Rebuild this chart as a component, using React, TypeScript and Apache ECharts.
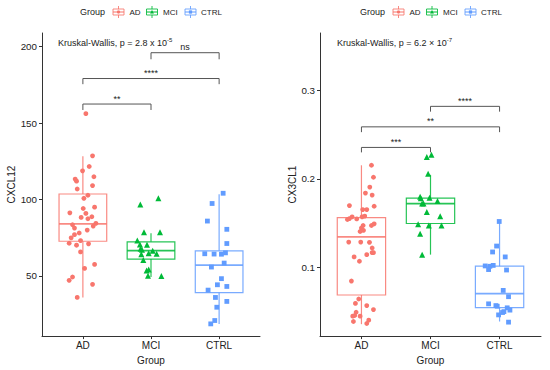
import React, { useEffect, useRef } from 'react';
import * as echarts from 'echarts';

// ---------- data ----------
const groups = ['AD', 'MCI', 'CTRL'];
const groupColors = ['#F8766D', '#00BA38', '#619CFF'];
const groupSymbols = ['circle', 'triangle', 'rect'];

// CXCL12 panel: points (value) and horizontal jitter (in category units)
const cxcl12AD = [156.2, 128.6, 121.6, 118.8, 114.9, 113.4, 112.0, 109.1, 106.9, 102.8, 100.8, 95.0, 94.1, 91.3, 90.9, 88.7, 88.3, 87.4, 84.4, 83.5, 82.6, 81.3, 80.0, 78.1, 77.0, 74.9, 73.1, 71.4, 71.0, 70.1, 65.7, 57.5, 54.9, 49.3, 47.1, 44.5, 35.9];
const cxcl12ADJitter = [0.044, 0.142, 0.093, -0.005, 0.162, -0.113, -0.093, 0.142, -0.083, 0.074, 0.015, 0.172, 0.005, -0.191, 0.044, 0.132, -0.025, 0.074, 0.191, -0.152, 0.152, -0.123, 0.064, -0.054, -0.123, -0.172, -0.034, -0.201, 0.083, -0.093, -0.034, 0.172, 0.025, -0.152, -0.201, 0.142, -0.083];
const cxcl12MCI = [100.8, 96.8, 78.6, 78.6, 73.1, 70.5, 70.4, 67.7, 67.1, 66.4, 64.9, 64.5, 64.2, 60.4, 53.5, 54.2, 50.1, 49.9];
const cxcl12MCIJitter = [0.108, -0.157, 0.132, -0.103, -0.201, -0.162, -0.059, -0.152, -0.132, 0.025, -0.034, 0.083, -0.142, -0.113, -0.064, -0.034, -0.044, 0.152];
const cxcl12CTRL = [104.1, 97.4, 85.9, 80.5, 71.2, 64.5, 64.3, 64.2, 65.1, 58.4, 55.8, 48.2, 44.2, 43.1, 40.7, 35.9, 33.3, 29.5, 20.8, 18.6];
const cxcl12CTRLJitter = [0.059, -0.103, -0.172, 0.113, 0.113, -0.211, -0.074, 0.034, 0.093, 0.074, -0.113, 0.034, -0.025, 0.113, -0.162, -0.054, 0.113, -0.034, -0.064, -0.123];
// box stats: [lower whisker, Q1, median, Q3, upper whisker]
const cxcl12Box = [
  [35.9, 72.7, 84.0, 103.6, 128.3],
  [49.3, 61.0, 66.6, 72.3, 77.9],
  [18.6, 39.0, 57.1, 66.4, 103.4],
];
// brackets: [from group, to group, bar value, tick end value]
const cxcl12Brackets = [
  [2, 3, 196.1, 191.8],
  [1, 3, 179.2, 175.5],
  [1, 2, 162.5, 158.6],
];
const cxcl12BracketLabels = ['ns', '****', '**'];
const cxcl12Ticks = [50, 100, 150, 200];

// CX3CL1 panel
const cx3cl1AD = [0.2153, 0.2018, 0.1906, 0.1838, 0.1816, 0.1697, 0.1689, 0.1652, 0.1652, 0.157, 0.157, 0.1578, 0.155, 0.1546, 0.154, 0.1472, 0.1472, 0.149, 0.1442, 0.1416, 0.1404, 0.1284, 0.1284, 0.1281, 0.1217, 0.1164, 0.1164, 0.1142, 0.1116, 0.1067, 0.0843, 0.064, 0.059, 0.0565, 0.052, 0.049, 0.0453, 0.0446, 0.0446, 0.04, 0.0385, 0.0363];
const cx3cl1ADJitter = [0.145, 0.174, 0.121, 0.058, 0.155, -0.174, 0.184, 0.019, 0.077, -0.135, 0.01, 0.048, -0.174, -0.068, -0.203, 0.024, 0.145, 0.184, 0.0, 0.029, -0.019, -0.184, -0.01, 0.116, 0.155, 0.174, 0.155, 0.077, -0.106, -0.029, -0.145, -0.039, -0.087, 0.077, 0.174, -0.077, -0.097, -0.019, -0.126, 0.106, -0.116, 0.077];
const cx3cl1MCI = [0.2273, 0.2247, 0.2056, 0.1798, 0.178, 0.1787, 0.172, 0.172, 0.1748, 0.1625, 0.1576, 0.1487, 0.1472, 0.1472, 0.1378, 0.1142];
const cx3cl1MCIJitter = [0.014, -0.053, -0.034, -0.15, -0.14, -0.014, -0.101, -0.121, 0.101, -0.053, 0.14, -0.179, -0.024, 0.159, -0.15, -0.121];
const cx3cl1CTRL = [0.1517, 0.1239, 0.1172, 0.1116, 0.1014, 0.101, 0.102, 0.0973, 0.0968, 0.0737, 0.0666, 0.0585, 0.0565, 0.0558, 0.054, 0.0514, 0.0497, 0.0487, 0.046, 0.0378];
const cx3cl1CTRLJitter = [-0.005, -0.043, -0.101, 0.082, -0.208, -0.14, -0.092, -0.159, 0.101, 0.053, 0.13, -0.159, -0.053, -0.034, 0.111, 0.15, 0.063, 0.043, -0.014, 0.13];
const cx3cl1Box = [
  [0.0355, 0.0685, 0.1344, 0.156, 0.2153],
  [0.1142, 0.1494, 0.1719, 0.1782, 0.2045],
  [0.0385, 0.0543, 0.07, 0.1011, 0.1517],
];
const cx3cl1Brackets = [
  [2, 3, 0.282, 0.276],
  [1, 3, 0.2588, 0.2528],
  [1, 2, 0.2355, 0.2299],
];
const cx3cl1BracketLabels = ['****', '**', '***'];
const cx3cl1Ticks = [0.1, 0.2, 0.3];

const FONT = 'Liberation Sans, Arial, Helvetica, sans-serif';
const TEXT = '#222222';
const AXIS = '#333333';

function boxSeries(stats: number[][], idx: number) {
  return {
    type: 'custom',
    xAxisIndex: idx,
    yAxisIndex: idx,
    z: 2,
    silent: true,
    data: stats.map((s, i) => [i + 1, ...s]),
    renderItem: (params: any, api: any) => {
      const x = api.value(0);
      const lo = api.value(1), q1 = api.value(2), med = api.value(3), q3 = api.value(4), hi = api.value(5);
      const color = groupColors[params.dataIndex];
      const hw = 0.35;
      const tl = api.coord([x - hw, q3]);
      const br = api.coord([x + hw, q1]);
      const mL = api.coord([x - hw, med]);
      const mR = api.coord([x + hw, med]);
      const top = api.coord([x, hi]);
      const bot = api.coord([x, lo]);
      const cTop = api.coord([x, q3]);
      const cBot = api.coord([x, q1]);
      const st = { stroke: color, lineWidth: 1.2, opacity: 0.85, fill: 'none' };
      return {
        type: 'group',
        children: [
          { type: 'line', shape: { x1: top[0], y1: top[1], x2: cTop[0], y2: cTop[1] }, style: st },
          { type: 'line', shape: { x1: bot[0], y1: bot[1], x2: cBot[0], y2: cBot[1] }, style: st },
          { type: 'rect', shape: { x: tl[0], y: tl[1], width: br[0] - tl[0], height: br[1] - tl[1] }, style: st },
          { type: 'line', shape: { x1: mL[0], y1: mL[1], x2: mR[0], y2: mR[1] }, style: { ...st, lineWidth: 1.8 } },
        ],
      };
    },
  };
}

function pointSeries(values: number[], jitter: number[], gi: number, idx: number) {
  return {
    type: 'scatter',
    name: groups[gi],
    xAxisIndex: idx,
    yAxisIndex: idx,
    z: 3,
    symbol: groupSymbols[gi],
    symbolSize: gi === 1 ? 6 : 4.8,
    itemStyle: { color: groupColors[gi], opacity: 1 },
    data: values.map((v, i) => [gi + 1 + jitter[i], v]),
  };
}

function bracketSeries(brackets: number[][], labels: string[], idx: number) {
  return {
    type: 'custom',
    xAxisIndex: idx,
    yAxisIndex: idx,
    z: 4,
    silent: true,
    data: brackets,
    renderItem: (params: any, api: any) => {
      const x1 = api.value(0), x2 = api.value(1), y = api.value(2), yt = api.value(3);
      const p1 = api.coord([x1, yt]);
      const p2 = api.coord([x1, y]);
      const p3 = api.coord([x2, y]);
      const p4 = api.coord([x2, yt]);
      return {
        type: 'group',
        children: [
          { type: 'polyline', shape: { points: [p1, p2, p3, p4] }, style: { stroke: '#555555', lineWidth: 1, fill: 'none' } },
          {
            type: 'text',
            x: (p2[0] + p3[0]) / 2,
            y: p2[1] - 1,
            style: {
              text: labels[params.dataIndex],
              fontSize: 9,
              fontFamily: FONT,
              fill: TEXT,
              textAlign: 'center',
              align: 'center',
              textVerticalAlign: 'bottom',
              verticalAlign: 'bottom',
            },
          },
        ],
      };
    },
  };
}

function legendGraphic(dx: number) {
  const children: any[] = [];
  children.push({
    type: 'text', x: 80 + dx, y: 12,
    style: { text: 'Group', fontSize: 9, fontFamily: FONT, fill: TEXT, textVerticalAlign: 'middle', verticalAlign: 'middle' },
  });
  const iconX = [118.5, 152, 190.5];
  const textX = [129.5, 163, 201];
  groups.forEach((g, i) => {
    const cx = iconX[i] + dx;
    const c = groupColors[i];
    children.push({ type: 'line', shape: { x1: cx, y1: 6, x2: cx, y2: 18 }, style: { stroke: c, lineWidth: 1, opacity: 0.85 } });
    children.push({ type: 'rect', shape: { x: cx - 5.5, y: 9, width: 11, height: 6 }, style: { fill: '#ffffff', stroke: c, lineWidth: 1, opacity: 0.85 } });
    children.push({ type: 'line', shape: { x1: cx - 5.5, y1: 12, x2: cx + 5.5, y2: 12 }, style: { stroke: c, lineWidth: 1.2, opacity: 0.85 } });
    if (i === 0) children.push({ type: 'circle', shape: { cx, cy: 12, r: 1.6 }, style: { fill: c } });
    if (i === 1) children.push({ type: 'polygon', shape: { points: [[cx, 10], [cx - 2, 13.5], [cx + 2, 13.5]] }, style: { fill: c } });
    if (i === 2) children.push({ type: 'rect', shape: { x: cx - 1.6, y: 10.4, width: 3.2, height: 3.2 }, style: { fill: c } });
    children.push({
      type: 'text', x: textX[i] + dx, y: 12,
      style: { text: g, fontSize: 8, fontFamily: FONT, fill: TEXT, textVerticalAlign: 'middle', verticalAlign: 'middle' },
    });
  });
  return { type: 'group', children };
}

function kwText(x: number, main: string, sup: string) {
  return {
    type: 'text', x, y: 43,
    style: {
      text: `{m|${main}}{s|${sup}}`,
      fontFamily: FONT,
      fill: TEXT,
      textVerticalAlign: 'middle',
      verticalAlign: 'middle',
      rich: {
        m: { fontSize: 9, lineHeight: 12, fontFamily: FONT, fill: TEXT, color: TEXT },
        s: { fontSize: 6, lineHeight: 12, verticalAlign: 'top', fontFamily: FONT, fill: TEXT, color: TEXT },
      },
    },
  };
}

function xAxis(idx: number) {
  return {
    type: 'value',
    gridIndex: idx,
    min: 0.4,
    max: 3.6,
    name: 'Group',
    nameLocation: 'middle',
    nameGap: 15,
    nameTextStyle: { fontSize: 10, color: TEXT, fontFamily: FONT },
    splitLine: { show: false },
    axisLine: { show: true, onZero: false, lineStyle: { color: AXIS, width: 1 } },
    axisTick: { show: true, length: 3, customValues: [1, 2, 3], lineStyle: { color: AXIS } },
    axisLabel: {
      customValues: [1, 2, 3],
      formatter: (v: number) => groups[Math.round(v) - 1] ?? '',
      fontSize: 10,
      color: TEXT,
      fontFamily: FONT,
      margin: 4,
    },
  };
}

function yAxis(idx: number, min: number, max: number, ticks: number[], name: string, gap: number) {
  return {
    type: 'value',
    gridIndex: idx,
    min,
    max,
    name,
    nameLocation: 'middle',
    nameGap: gap,
    nameRotate: 90,
    nameTextStyle: { fontSize: 10, color: TEXT, fontFamily: FONT },
    splitLine: { show: false },
    axisLine: { show: true, onZero: false, lineStyle: { color: AXIS, width: 1 } },
    axisTick: { show: true, length: 3, customValues: ticks, lineStyle: { color: AXIS } },
    axisLabel: { customValues: ticks, fontSize: 9.8, color: TEXT, fontFamily: FONT, margin: 5 },
  };
}

export default function App() {
  const ref = useRef<HTMLDivElement>(null);
  useEffect(() => {
    if (!ref.current) return;
    const chart = echarts.init(ref.current, null, { renderer: 'svg' });
    chart.setOption({
      animation: false,
      backgroundColor: '#ffffff',
      textStyle: { fontFamily: FONT },
      grid: [
        { left: 42, top: 33, width: 218, height: 306 },
        { left: 320, top: 33, width: 221, height: 306 },
      ],
      xAxis: [xAxis(0), xAxis(1)],
      yAxis: [
        yAxis(0, 10.6, 209, cxcl12Ticks, 'CXCL12', 24),
        yAxis(1, 0.022, 0.365, cx3cl1Ticks, 'CX3CL1', 20),
      ],
      graphic: [
        legendGraphic(0),
        legendGraphic(280),
        kwText(58, 'Kruskal-Wallis, p = 2.8 x 10', '-5'),
        kwText(337, 'Kruskal-Wallis, p = 6.2 × 10', '-7'),
      ],
      series: [
        boxSeries(cxcl12Box, 0),
        pointSeries(cxcl12AD, cxcl12ADJitter, 0, 0),
        pointSeries(cxcl12MCI, cxcl12MCIJitter, 1, 0),
        pointSeries(cxcl12CTRL, cxcl12CTRLJitter, 2, 0),
        bracketSeries(cxcl12Brackets, cxcl12BracketLabels, 0),
        boxSeries(cx3cl1Box, 1),
        pointSeries(cx3cl1AD, cx3cl1ADJitter, 0, 1),
        pointSeries(cx3cl1MCI, cx3cl1MCIJitter, 1, 1),
        pointSeries(cx3cl1CTRL, cx3cl1CTRLJitter, 2, 1),
        bracketSeries(cx3cl1Brackets, cx3cl1BracketLabels, 1),
      ],
    });
    return () => chart.dispose();
  }, []);
  return (
    <div
      ref={ref}
      style={{ position: 'fixed', left: 0, top: 0, width: 550, height: 370, background: '#fff' }}
    />
  );
}
